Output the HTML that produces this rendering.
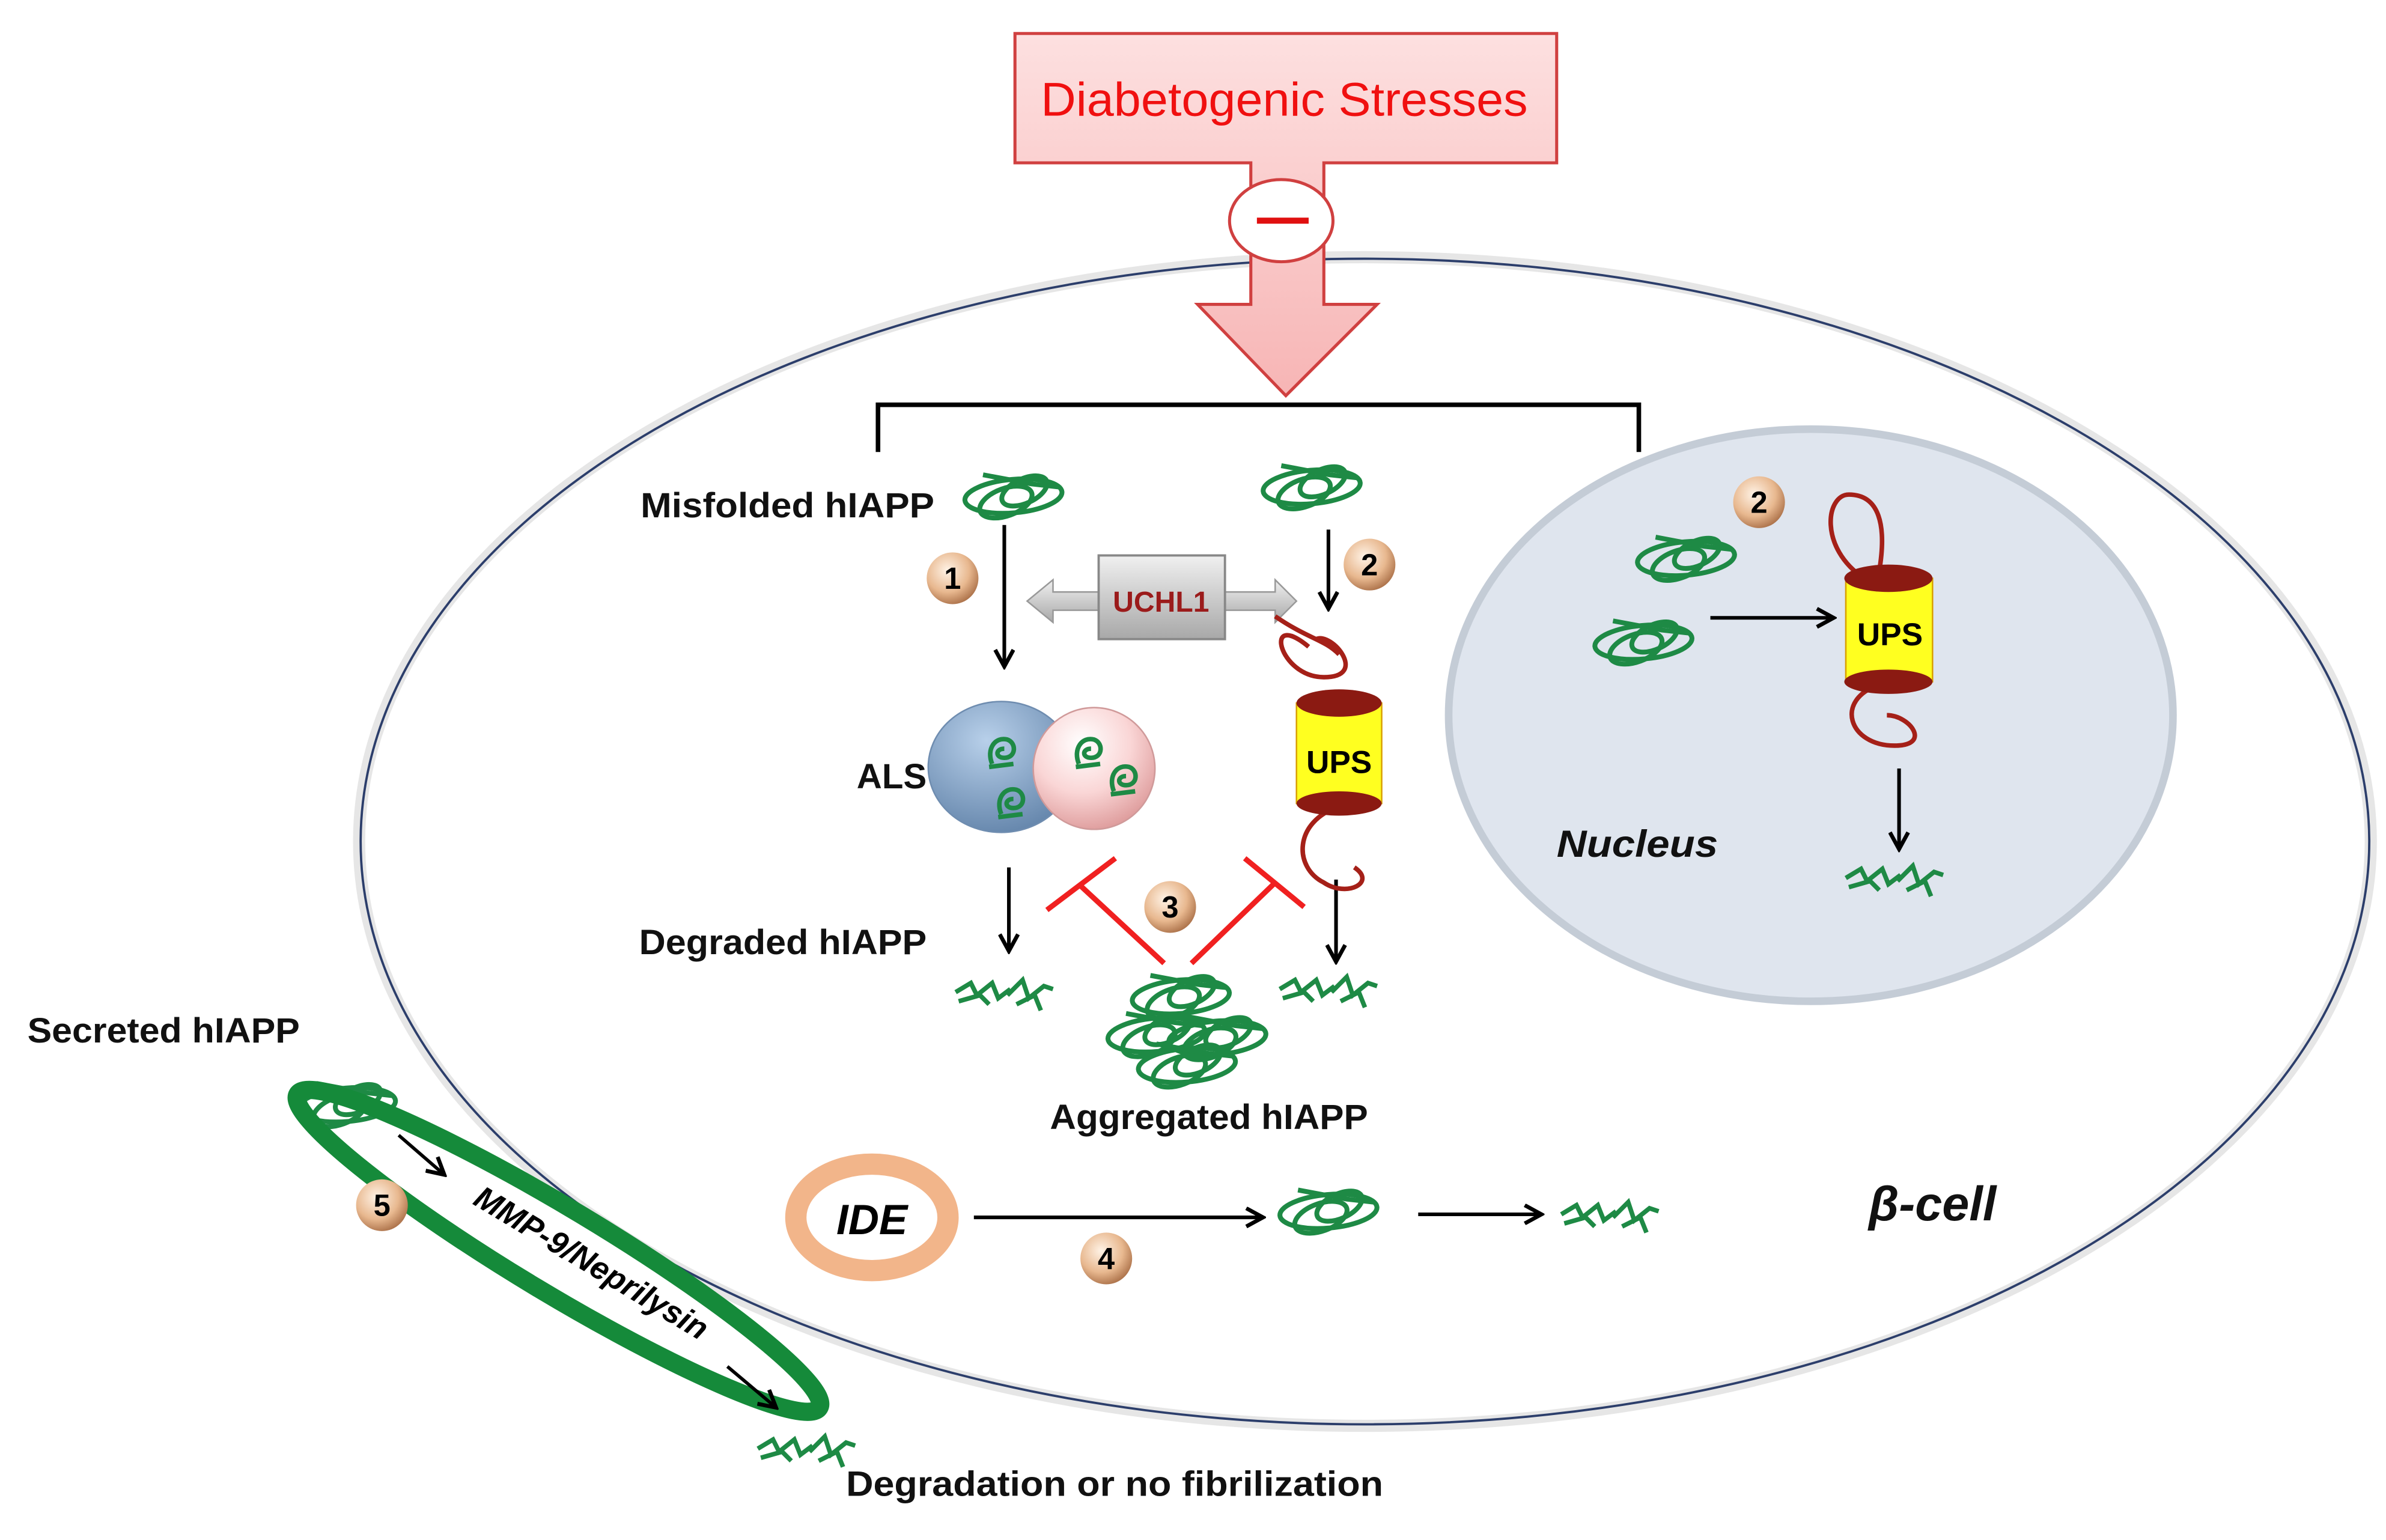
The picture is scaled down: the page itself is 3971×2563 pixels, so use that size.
<!DOCTYPE html>
<html><head><meta charset="utf-8"><style>html,body{margin:0;padding:0;background:#fff}svg{display:block}</style></head>
<body>
<svg width="3971" height="2563" viewBox="0 0 1568 1012" xmlns="http://www.w3.org/2000/svg" font-family="Liberation Sans, sans-serif">
<defs>
<linearGradient id="pk" x1="0" y1="0" x2="0" y2="1"><stop offset="0" stop-color="#fde0e0"/><stop offset="1" stop-color="#f7b5b5"/></linearGradient>
<radialGradient id="num" cx="0.4" cy="0.35" r="0.7"><stop offset="0" stop-color="#fff3e6"/><stop offset="0.6" stop-color="#e8b88f"/><stop offset="1" stop-color="#a86d45"/></radialGradient>
<radialGradient id="blue" cx="0.4" cy="0.3" r="0.8"><stop offset="0" stop-color="#b8d0ea"/><stop offset="1" stop-color="#5d7fa6"/></radialGradient>
<radialGradient id="pinkc" cx="0.4" cy="0.3" r="0.8"><stop offset="0" stop-color="#ffffff"/><stop offset="0.5" stop-color="#fad6d6"/><stop offset="1" stop-color="#d88f8f"/></radialGradient>
<linearGradient id="gray" x1="0" y1="0" x2="0" y2="1"><stop offset="0" stop-color="#f0f0f0"/><stop offset="1" stop-color="#a8a8a8"/></linearGradient>
<marker id="ah" markerWidth="14" markerHeight="14" refX="12" refY="7" orient="auto" markerUnits="userSpaceOnUse"><path d="M1,1 L12,7 L1,13" fill="none" stroke="#000" stroke-width="2.6"/></marker>
<g id="coil" fill="none" stroke="#1e8a45" stroke-width="3.2">
<ellipse cx="0" cy="0" rx="32" ry="11" transform="rotate(-5)"/>
<ellipse cx="-6" cy="2" rx="18" ry="9" transform="rotate(-20)"/>
<ellipse cx="8" cy="0" rx="16" ry="8" transform="rotate(-25)"/>
<path d="M-20,-14 L12,-8 L30,-6"/>
</g>
<g id="frag" fill="none" stroke="#1e8a45" stroke-width="3">
<path d="M-32,0 L-22,-6 L-18,2 L-8,-6 L-4,4 L4,-2"/>
<path d="M-30,6 L-16,2 L-10,8"/>
<path d="M2,2 L12,-8 L16,4 L26,-4 L32,-2"/>
<path d="M8,8 L20,2 L24,12"/>
</g>
<g id="mini" fill="none" stroke="#1e8a45" stroke-width="3">
<path d="M-6,8 C-10,-2 -4,-10 4,-8 C10,-6 10,4 2,4 C-4,4 -4,-2 2,-2 M-8,10 L8,8"/>
</g>
</defs>
<rect width="1568" height="1012" fill="#fff"/>

<ellipse cx="897" cy="553" rx="661" ry="384" fill="none" stroke="#e6e6e6" stroke-width="8"/>
<ellipse cx="897" cy="553" rx="660" ry="383" fill="none" stroke="#2c3e6b" stroke-width="1.5"/>

<ellipse cx="1190" cy="470" rx="238" ry="188" fill="#dfe5ee" stroke="#c4ccd6" stroke-width="5"/>

<path d="M667,22 H1023 V107 H870 V200 H905 L845,260 L787,200 H822 V107 H667 Z" fill="url(#pk)" stroke="#d04040" stroke-width="2"/>
<text x="844" y="76" font-size="31" fill="#f01010" text-anchor="middle" textLength="320" lengthAdjust="spacingAndGlyphs">Diabetogenic Stresses</text>
<ellipse cx="842" cy="145" rx="34" ry="27" fill="#fff" stroke="#d04040" stroke-width="2"/>
<rect x="826" y="143" width="34" height="4" fill="#e01010"/>

<path d="M577,297 V266 H1077 V297" fill="none" stroke="#000" stroke-width="3"/>

<g font-weight="bold" font-size="23" fill="#111">
<text x="421" y="340" textLength="193" lengthAdjust="spacingAndGlyphs">Misfolded hIAPP</text>
<text x="563" y="518">ALS</text>
<text x="420" y="627" textLength="189" lengthAdjust="spacingAndGlyphs">Degraded hIAPP</text>
<text x="690" y="742" textLength="209" lengthAdjust="spacingAndGlyphs">Aggregated hIAPP</text>
<text x="18" y="685" textLength="179" lengthAdjust="spacingAndGlyphs">Secreted hIAPP</text>
<text x="556" y="983" textLength="353" lengthAdjust="spacingAndGlyphs">Degradation or no fibrilization</text>
<text x="1023" y="563" font-style="italic" font-size="25" textLength="106" lengthAdjust="spacingAndGlyphs">Nucleus</text>
<text x="1228" y="802" font-style="italic" font-size="32">β-cell</text>
</g>

<use href="#coil" x="666" y="326"/>
<use href="#coil" x="862" y="320"/>
<use href="#coil" x="1108" y="367"/>
<use href="#coil" x="1080" y="422"/>
<use href="#coil" x="228" y="726"/>
<use href="#coil" x="873" y="796"/>
<use href="#coil" x="776" y="655"/>
<use href="#coil" x="760" y="680"/>
<use href="#coil" x="800" y="682"/>
<use href="#coil" x="780" y="700"/>
<use href="#frag" x="660" y="652"/>
<use href="#frag" x="873" y="650"/>
<use href="#frag" x="1245" y="577"/>
<use href="#frag" x="1058" y="798"/>
<use href="#frag" x="530" y="952"/>

<g stroke="#000" stroke-width="2.4" marker-end="url(#ah)">
<line x1="660" y1="345" x2="660" y2="438"/>
<line x1="873" y1="348" x2="873" y2="400"/>
<line x1="663" y1="570" x2="663" y2="625"/>
<line x1="878" y1="578" x2="878" y2="632"/>
<line x1="1124" y1="406" x2="1205" y2="406"/>
<line x1="1248" y1="505" x2="1248" y2="558"/>
<line x1="640" y1="800" x2="830" y2="800"/>
<line x1="932" y1="798" x2="1013" y2="798"/>
</g>

<path d="M675,395 L692,381 V389 H838 V381 L852,395 L838,409 V401 H692 V409 Z" fill="url(#gray)" stroke="#999" stroke-width="1"/>
<rect x="722" y="365" width="83" height="55" fill="url(#gray)" stroke="#888" stroke-width="1.5"/>
<text x="763" y="402" font-size="19" font-weight="bold" fill="#9b1b1b" text-anchor="middle">UCHL1</text>

<ellipse cx="658" cy="504" rx="48" ry="43" fill="url(#blue)" stroke="#6f8db0"/>
<circle cx="719" cy="505" r="40" fill="url(#pinkc)" stroke="#d09a9a"/>
<use href="#mini" x="658" y="494"/><use href="#mini" x="664" y="527"/>
<use href="#mini" x="715" y="494"/><use href="#mini" x="738" y="512"/>

<path d="M860,425 C830,400 840,445 870,445 C900,445 875,415 865,420 M880,530 C850,540 850,570 870,580 C885,590 905,580 890,570" fill="none" stroke="#a52018" stroke-width="3"/>
<path d="M838,405 C860,420 870,420 880,430" fill="none" stroke="#a52018" stroke-width="3"/>
<rect x="852" y="462" width="56" height="66" fill="#ffff20" stroke="#d9a000"/>
<ellipse cx="880" cy="462" rx="28" ry="9" fill="#8b1a12"/>
<ellipse cx="880" cy="528" rx="28" ry="8" fill="#8b1a12"/>
<text x="880" y="508" font-size="21" font-weight="bold" text-anchor="middle">UPS</text>

<path d="M1225,380 C1195,360 1200,325 1215,325 C1235,325 1240,345 1235,375 M1235,450 C1205,460 1215,490 1245,490 C1270,490 1255,470 1240,470" fill="none" stroke="#a52018" stroke-width="3"/>
<rect x="1213" y="380" width="57" height="68" fill="#ffff20" stroke="#d9a000"/>
<ellipse cx="1241" cy="380" rx="29" ry="9" fill="#8b1a12"/>
<ellipse cx="1241" cy="448" rx="29" ry="8" fill="#8b1a12"/>
<text x="1242" y="424" font-size="21" font-weight="bold" text-anchor="middle">UPS</text>

<g stroke="#f02020" stroke-width="3.5" fill="none">
<line x1="765" y1="633" x2="710" y2="582"/>
<line x1="688" y1="598" x2="733" y2="564"/>
<line x1="783" y1="633" x2="838" y2="580"/>
<line x1="818" y1="564" x2="857" y2="596"/>
</g>

<ellipse cx="573" cy="800" rx="50" ry="35" fill="#fff" stroke="#f2b58a" stroke-width="14"/>
<text x="573" y="811" font-size="28" font-weight="bold" font-style="italic" text-anchor="middle">IDE</text>

<ellipse cx="367" cy="822" rx="200" ry="28" transform="rotate(31 367 822)" fill="none" stroke="#158a3a" stroke-width="12"/>
<text x="385" y="836" font-size="21" font-weight="bold" font-style="italic" text-anchor="middle" transform="rotate(31 385 836)">MMP-9/Neprilysin</text>
<g stroke="#000" stroke-width="2.2" marker-end="url(#ah)">
<line x1="262" y1="746" x2="292" y2="772"/>
<line x1="478" y1="898" x2="510" y2="925"/>
</g>

<g font-size="20" font-weight="bold" text-anchor="middle">
<circle cx="626" cy="380" r="17" fill="url(#num)"/><text x="626" y="387">1</text>
<circle cx="900" cy="371" r="17" fill="url(#num)"/><text x="900" y="378">2</text>
<circle cx="1156" cy="330" r="17" fill="url(#num)"/><text x="1156" y="337">2</text>
<circle cx="769" cy="596" r="17" fill="url(#num)"/><text x="769" y="603">3</text>
<circle cx="727" cy="827" r="17" fill="url(#num)"/><text x="727" y="834">4</text>
<circle cx="251" cy="792" r="17" fill="url(#num)"/><text x="251" y="799">5</text>
</g>
</svg>
</body></html>
